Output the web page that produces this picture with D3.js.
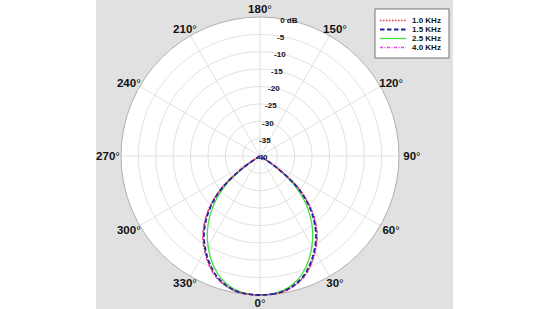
<!DOCTYPE html>
<html>
<head>
<meta charset="utf-8">
<script src="https://cdn.jsdelivr.net/npm/d3@7"></script>
<style>
  body { margin: 0; background: #fff; }
  svg { display: block; }
  text { font-family: "Liberation Sans", Arial, Helvetica, sans-serif; }
</style>
</head>
<body>
<div id="chart"></div>
<script>
// angles (deg) for half the pattern, pattern is symmetric so 185..355 mirrors these
var angles = [0,5,10,15,20,25,30,35,40,45,50,55,60,65,70,75,80,85,90,
              95,100,105,110,115,120,125,130,135,140,145,150,155,160,165,170,175,180];

var db1000 = [0,-0.1,-0.5,-1.5,-3.1,-5.5,-8.4,-11.5,-15.4,-20.0,-25.6,-33.3,-40,-40,-40,-40,-40,-40,-40,
              -40,-40,-40,-40,-40,-40,-40,-40,-40,-40,-40,-40,-40,-40,-40,-40,-40,-40];
var db1500 = [0,-0.1,-0.5,-1.6,-3.3,-5.8,-8.7,-11.9,-15.8,-20.4,-26.0,-33.8,-40,-40,-40,-40,-40,-40,-40,
              -40,-40,-40,-40,-40,-40,-40,-40,-40,-40,-40,-40,-40,-40,-40,-40,-40,-40];
var db2500 = [0,-0.2,-0.8,-2.1,-4.1,-6.9,-10.1,-13.6,-17.6,-22,-27.4,-35,-40,-40,-40,-40,-40,-40,-40,
              -40,-40,-40,-40,-40,-40,-40,-40,-40,-40,-40,-40,-40,-40,-40,-40,-40,-40];
var db4000 = [0,-0.1,-0.4,-1.4,-2.9,-5.3,-8.2,-11.3,-15.2,-19.8,-25.4,-33.1,-40,-40,-40,-40,-40,-40,-40,
              -40,-40,-40,-40,-40,-40,-40,-40,-40,-40,-40,-40,-40,-40,-40,-40,-40,-40];

var seriesNames = ["1.0 KHz", "1.5 KHz", "2.5 KHz", "4.0 KHz"];
var ringTicks = [0,-5,-10,-15,-20,-25,-30,-35,-40];
var spokeAngles = [0,30,60,90,120,150,180,210,240,270,300,330];

var width = 550, height = 309;
var cx = 260, cy = 156, R = 139;

var svg = d3.select("#chart").append("svg")
    .attr("width", width)
    .attr("height", height);

// grey panel behind the polar plot
svg.append("rect")
    .attr("x", 96).attr("y", 0)
    .attr("width", 357).attr("height", height)
    .style("fill", "#e1e1e1");

var g = svg.append("g")
    .attr("transform", "translate(" + cx + "," + cy + ")");

var r = d3.scaleLinear().domain([-40, 0]).range([0, R]).clamp(true);
var rad = function(deg){ return deg * Math.PI / 180; };

// plot face
g.append("circle").attr("r", R).style("fill", "#fff");

// rings
g.selectAll(".ring")
    .data(ringTicks.filter(function(d){ return d > -40 && d < 0; }))
  .enter().append("circle")
    .attr("class", "ring")
    .attr("r", function(d){ return r(d); })
    .style("fill", "none")
    .style("stroke", "#d9d9d9")
    .style("stroke-width", 0.8);

// spokes: 0 deg at the bottom, 90 to the right
g.selectAll(".spoke")
    .data(spokeAngles)
  .enter().append("line")
    .attr("class", "spoke")
    .attr("x1", 0).attr("y1", 0)
    .attr("x2", function(d){ return R * Math.sin(rad(d)); })
    .attr("y2", function(d){ return R * Math.cos(rad(d)); })
    .style("stroke", "#d9d9d9")
    .style("stroke-width", 0.8);

g.append("circle").attr("r", R)
    .style("fill", "none")
    .style("stroke", "#b0b0b0")
    .style("stroke-width", 1);

// angle labels
var angLab = g.selectAll(".anglab")
    .data(spokeAngles)
  .enter().append("text")
    .attr("class", "anglab")
    .attr("x", function(d){ return (R + 9 + 4 * Math.abs(Math.sin(rad(d)))) * Math.sin(rad(d)); })
    .attr("y", function(d){ return (R + 8) * Math.cos(rad(d)); })
    .attr("dy", "0.36em")
    .attr("text-anchor", "middle")
    .style("font-size", "11.5px")
    .style("font-weight", "bold")
    .style("fill", "#111");
angLab.append("tspan").text(function(d){ return d; });
angLab.append("tspan").text("\u00b0").style("font-weight", "normal");

// dB labels up the 180 spoke
g.selectAll(".dblab")
    .data(ringTicks)
  .enter().append("text")
    .attr("class", "dblab")
    .attr("x", function(d){ return r(d) * Math.sin(rad(10)) - 4; })
    .attr("y", function(d){ return -r(d) * Math.cos(rad(10)) + 1; })
    .attr("dy", "0.35em")
    .attr("text-anchor", "start")
    .style("font-size", "8px")
    .style("font-weight", "bold")
    .style("fill", "#111")
    .text(function(d){ return d === 0 ? "0 dB" : d; });

// full 360 series from the half pattern
function fullPattern(vals){
  var pts = angles.map(function(a, i){ return [a, vals[i]]; });
  for (var i = angles.length - 2; i > 0; i--) {
    pts.push([360 - angles[i], vals[i]]);
  }
  return pts;
}

var series = [
  { name: seriesNames[0], values: fullPattern(db1000), color: "#d83c3c", dash: "1.5,1.5", w: 1.5 },
  { name: seriesNames[1], values: fullPattern(db1500), color: "#23239c", dash: "4.5,2.5", w: 1.8 },
  { name: seriesNames[2], values: fullPattern(db2500), color: "#3ee03e", dash: null, w: 1.3 },
  { name: seriesNames[3], values: fullPattern(db4000), color: "#e048e0", dash: "3,1.5,1,1.5", w: 1.4 }
];

var line = d3.lineRadial()
    .angle(function(d){ return Math.PI - rad(d[0]); })
    .radius(function(d){ return r(d[1]); })
    .curve(d3.curveCatmullRomClosed.alpha(0.5));

var drawOrder = [2, 3, 0, 1];
drawOrder.forEach(function(k){
  var s = series[k];
  g.append("path")
    .attr("d", line(s.values))
    .style("fill", "none")
    .style("stroke", s.color)
    .style("stroke-width", s.w)
    .style("stroke-dasharray", s.dash);
});

// legend
var lg = svg.append("g").attr("transform", "translate(375,9)");
lg.append("rect")
    .attr("width", 74).attr("height", 49)
    .style("fill", "#fff")
    .style("stroke", "#555")
    .style("stroke-width", 0.8);

var rows = lg.selectAll(".row")
    .data(series)
  .enter().append("g")
    .attr("transform", function(d, i){ return "translate(0," + (11.5 + i * 9) + ")"; });
rows.append("line")
    .attr("x1", 5).attr("x2", 31)
    .style("stroke", function(d){ return d.color; })
    .style("stroke-width", function(d){ return d.w; })
    .style("stroke-dasharray", function(d){ return d.dash; });
rows.append("text")
    .attr("x", 37).attr("dy", "0.35em")
    .style("font-size", "8px")
    .style("font-weight", "bold")
    .style("fill", "#111")
    .text(function(d){ return d.name; });
</script>
</body>
</html>
